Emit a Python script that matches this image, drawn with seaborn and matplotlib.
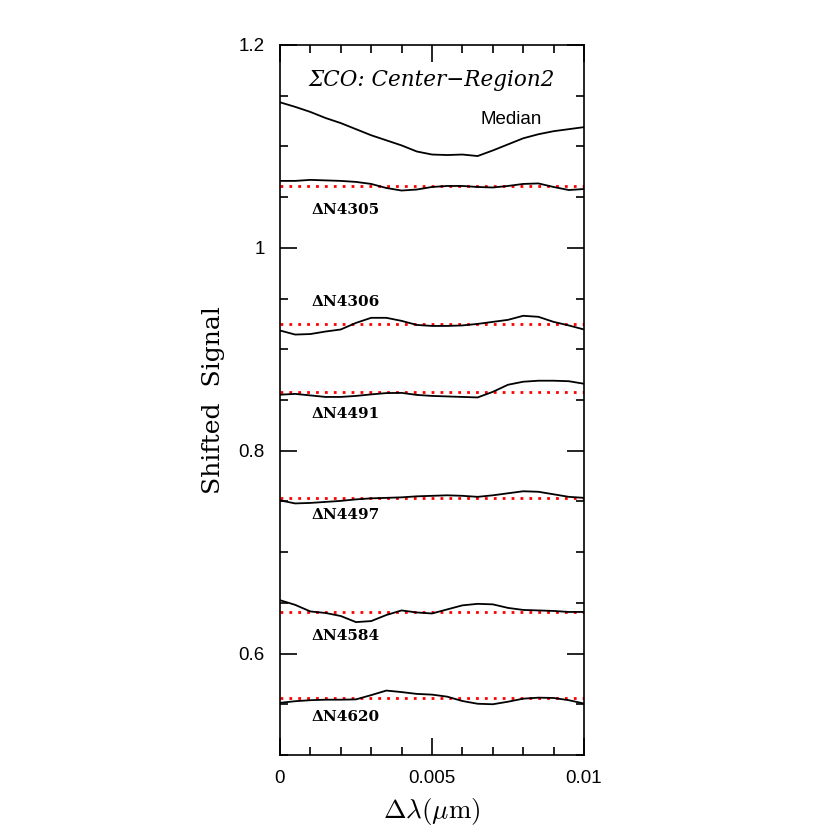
import numpy as np
import pandas as pd
import matplotlib
matplotlib.use("Agg")
import matplotlib.pyplot as plt
from matplotlib.ticker import MultipleLocator, FuncFormatter
import seaborn as sns

### wavelength offsets (micron)
dlam = [0.0, 0.0005, 0.001, 0.0015, 0.002, 0.0025, 0.003, 0.0035, 0.004, 0.0045, 0.005,
        0.0055, 0.006, 0.0065, 0.007, 0.0075, 0.008, 0.0085, 0.009, 0.0095, 0.01]

### shifted signals
median = [1.1435, 1.139, 1.134, 1.128, 1.123, 1.117, 1.111, 1.106, 1.101, 1.095, 1.092,
          1.0915, 1.092, 1.0905, 1.096, 1.102, 1.108, 1.112, 1.115, 1.117, 1.119]
n4305 = [1.066, 1.066, 1.067, 1.0665, 1.066, 1.065, 1.063, 1.059, 1.0565, 1.0575, 1.060,
         1.061, 1.061, 1.060, 1.0595, 1.061, 1.063, 1.0635, 1.060, 1.057, 1.058]
n4306 = [0.9185, 0.9145, 0.915, 0.9175, 0.9195, 0.926, 0.931, 0.931, 0.928, 0.924, 0.923,
         0.923, 0.9235, 0.925, 0.927, 0.929, 0.933, 0.932, 0.927, 0.9235, 0.9195]
n4491 = [0.8552, 0.856, 0.8545, 0.853, 0.853, 0.854, 0.8555, 0.8568, 0.857, 0.855, 0.854,
         0.8535, 0.853, 0.8525, 0.858, 0.865, 0.868, 0.869, 0.869, 0.8685, 0.866]
n4497 = [0.751, 0.748, 0.7485, 0.7495, 0.7505, 0.752, 0.753, 0.7535, 0.754, 0.755, 0.7555,
         0.756, 0.7555, 0.7545, 0.756, 0.758, 0.760, 0.7595, 0.757, 0.7545, 0.7535]
n4584 = [0.6526, 0.648, 0.6415, 0.640, 0.637, 0.631, 0.632, 0.638, 0.6425, 0.6405, 0.6395,
         0.6435, 0.6475, 0.649, 0.6485, 0.645, 0.643, 0.6425, 0.642, 0.641, 0.641]
n4620 = [0.5514, 0.553, 0.554, 0.5545, 0.5545, 0.5548, 0.559, 0.5635, 0.562, 0.5602, 0.5595,
         0.5575, 0.5532, 0.5505, 0.550, 0.5525, 0.5555, 0.5565, 0.5562, 0.554, 0.5507]

galaxies = ["N4305", "N4306", "N4491", "N4497", "N4584", "N4620"]
levels = [1.061, 0.9248, 0.8578, 0.7534, 0.6411, 0.5563]
label_y = [1.0375, 0.947, 0.836, 0.737, 0.6177, 0.537]

curves = [n4305, n4306, n4491, n4497, n4584, n4620]

### long table for seaborn
rows = []
for name, vals in zip(["Median"] + galaxies, [median] + curves):
    for xv, yv in zip(dlam, vals):
        rows.append((name, xv, yv))
df = pd.DataFrame(rows, columns=["Name", "dlam", "signal"])

sns.set_style("ticks", {"axes.edgecolor": "black", "xtick.color": "black",
                        "ytick.color": "black", "text.color": "black",
                        "axes.labelcolor": "black"})
plt.rcParams["mathtext.fontset"] = "cm"
plt.rcParams["font.family"] = ["Liberation Sans", "DejaVu Sans"]

fig = plt.figure(figsize=(8.3, 8.3), dpi=100)
ax = fig.add_axes([0.3373, 0.0904, 0.3663, 0.8554])

sns.lineplot(data=df, x="dlam", y="signal", units="Name", estimator=None,
             color="black", lw=1.3, ax=ax, legend=False)
for lev in levels:
    ax.axhline(lev, color="red", ls=(0, (1, 2.2)), lw=2.0, zorder=1)

for name, ly in zip(galaxies, label_y):
    ax.text(0.00105, ly, "\u0394" + name, fontsize=11, family="DejaVu Serif",
            weight="bold", va="center", ha="left")
ax.text(0.0076, 1.127, "Median", fontsize=13.5, ha="center", va="center")
ax.text(0.005, 1.1655, "\u03a3CO: Center\u2212Region2", fontsize=15.5,
        family="DejaVu Serif", style="italic", ha="center", va="center")

ax.set_xlim(0, 0.01)
ax.set_ylim(0.5, 1.2)
ax.xaxis.set_major_locator(MultipleLocator(0.005))
ax.xaxis.set_minor_locator(MultipleLocator(0.001))
ax.yaxis.set_major_locator(MultipleLocator(0.2))
ax.yaxis.set_minor_locator(MultipleLocator(0.05))
ax.xaxis.set_major_formatter(FuncFormatter(lambda v, p: "%g" % round(v, 6)))
ax.yaxis.set_major_formatter(FuncFormatter(lambda v, p: "%g" % round(v, 6)))
ax.tick_params(which="both", direction="in", top=True, right=True, labelsize=13.5,
               width=1.2, pad=11, colors="black")
ax.tick_params(which="major", length=12)
ax.tick_params(which="minor", length=6)
for s in ax.spines.values():
    s.set_linewidth(1.2)
    s.set_color("black")

ax.set_xlabel(r"$\Delta\lambda(\mu\mathrm{m})$", fontsize=19.5, labelpad=6)
ax.set_ylabel("Shifted  Signal", fontsize=18, family="DejaVu Serif", labelpad=10)

fig.savefig("out.png", dpi=100)
